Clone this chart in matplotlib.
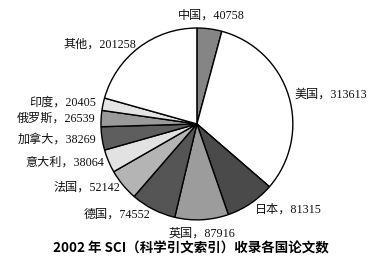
import numpy as np
import matplotlib
matplotlib.use('Agg')
import matplotlib.pyplot as plt

countries = ['中国', '美国', '日本', '英国', '德国', '法国', '意大利', '加拿大', '俄罗斯', '印度', '其他']
papers = [40758, 313613, 81315, 87916, 74552, 52142, 38064, 38269, 26539, 20405, 201258]
shades = ['#858585', '#ffffff', '#4a4a4a', '#9c9c9c', '#555555', '#b4b4b4',
          '#e2e2e2', '#5e5e5e', '#9a9a9a', '#e4e4e4', '#ffffff']
title = '2002 年 SCI（科学引文索引）收录各国论文数'

plt.rcParams['font.family'] = ['Liberation Serif', 'Noto Sans CJK SC']

fig = plt.figure(figsize=(3.74, 2.64), dpi=100)
ax = fig.add_axes([0.270, 0.167, 0.513, 0.727])

wedges, _ = ax.pie(papers, startangle=90, counterclock=False, colors=shades,
                   wedgeprops=dict(edgecolor='black', linewidth=1.0))
ax.set_xlim(-1, 1)
ax.set_ylim(-1, 1)
ax.axis('off')

# label radius per slice (tuned by eye)
lab_r = [1.14, 1.06, 1.08, 1.14, 1.06, 1.04, 1.05, 1.06, 1.06, 1.07, 1.04]
for w, name, val, r in zip(wedges, countries, papers, lab_r):
    ang = np.deg2rad((w.theta1 + w.theta2) / 2)
    x, y = r * np.cos(ang), r * np.sin(ang)
    ha = 'left' if x > 0.2 else ('right' if x < -0.2 else 'center')
    ax.text(x, y, f'{name}，{val}', ha=ha, va='center', fontsize=8.7,
            color='#111111')

fig.text(0.51, 0.057, title, ha='center', va='center', fontsize=9.7,
         fontweight='bold', family=['Noto Sans CJK SC', 'DejaVu Sans'])

fig.savefig('out.png', dpi=100, facecolor='white')
